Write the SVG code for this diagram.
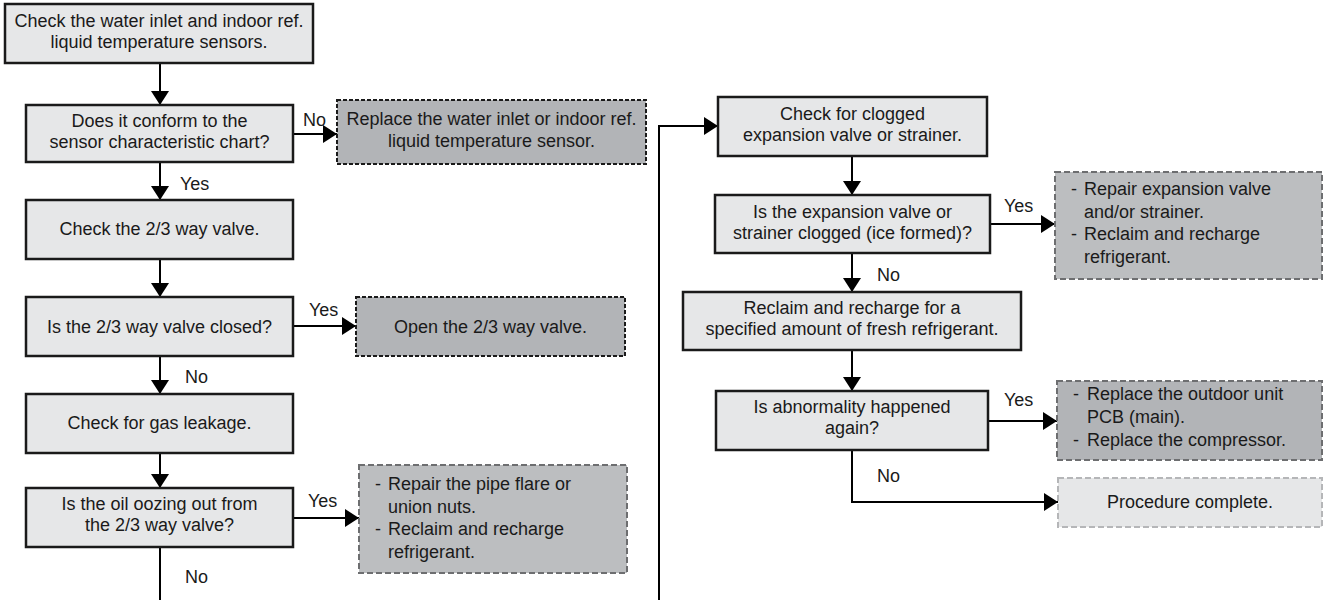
<svg xmlns="http://www.w3.org/2000/svg" width="1324" height="600" viewBox="0 0 1324 600">
<style>
text{font-family:"Liberation Sans",Arial,sans-serif;font-size:18px;fill:#1a1a1a}
.c{text-anchor:middle}
.step{fill:#e6e7e8;stroke:#1a1a1a;stroke-width:2.5}
.act{fill:#b2b4b7;stroke:#1a1a1a;stroke-width:2;stroke-dasharray:4 2}
.fix{fill:#bcbec0;stroke:#6d6e70;stroke-width:2;stroke-dasharray:6 3}
.fix2{fill:#b2b4b7;stroke:#6d6e70;stroke-width:2;stroke-dasharray:6 3}
.done{fill:#e6e7e8;stroke:#b5b6b8;stroke-width:2;stroke-dasharray:6 3}
.ln{fill:none;stroke:#000;stroke-width:2}
.ar{fill:none;stroke:#000;stroke-width:2;marker-end:url(#ah)}
</style>
<defs>
<marker id="ah" markerUnits="userSpaceOnUse" markerWidth="15" markerHeight="18" refX="14" refY="9" orient="auto">
<path d="M0,0 L14,9 L0,18 Z" fill="#000"/>
</marker>
</defs>

<g id="connectors">
<line class="ar" x1="160" y1="63" x2="160" y2="105"/>
<line class="ar" x1="293" y1="134" x2="337" y2="134"/>
<line class="ar" x1="160" y1="162" x2="160" y2="200"/>
<line class="ar" x1="160" y1="259" x2="160" y2="297"/>
<line class="ar" x1="293" y1="326" x2="356" y2="326"/>
<line class="ar" x1="160" y1="356" x2="160" y2="394"/>
<line class="ar" x1="160" y1="453" x2="160" y2="488"/>
<line class="ar" x1="293" y1="518" x2="359" y2="518"/>
<line class="ln" x1="160" y1="547" x2="160" y2="600"/>
<polyline class="ar" points="659,600 659,126 718,126"/>
<line class="ar" x1="852" y1="156" x2="852" y2="195"/>
<line class="ar" x1="990" y1="224" x2="1055" y2="224"/>
<line class="ar" x1="852" y1="253" x2="852" y2="292"/>
<line class="ar" x1="852" y1="350" x2="852" y2="391"/>
<line class="ar" x1="988" y1="421" x2="1057" y2="421"/>
<polyline class="ar" points="852,450 852,502 1058,502"/>
<text x="303" y="126">No</text>
<text x="180" y="190">Yes</text>
<text x="309" y="316">Yes</text>
<text x="185" y="383">No</text>
<text x="308" y="507">Yes</text>
<text x="185" y="583">No</text>
<text x="1004" y="212">Yes</text>
<text x="877" y="281">No</text>
<text x="1004" y="406">Yes</text>
<text x="877" y="482">No</text>
</g>

<g id="n1">
<rect class="step" x="5" y="4" width="308" height="59"/>
<text class="c" x="159" y="27">Check the water inlet and indoor ref.</text>
<text class="c" x="159" y="48">liquid temperature sensors.</text>
</g>
<g id="n2">
<rect class="step" x="26" y="105" width="267" height="57"/>
<text class="c" x="159.5" y="127">Does it conform to the</text>
<text class="c" x="159.5" y="148">sensor characteristic chart?</text>
</g>
<g id="n3">
<rect class="act" x="337" y="100" width="309" height="64"/>
<text class="c" x="491.5" y="125">Replace the water inlet or indoor ref.</text>
<text class="c" x="491.5" y="147">liquid temperature sensor.</text>
</g>
<g id="n4">
<rect class="step" x="26" y="200" width="267" height="59"/>
<text class="c" x="159.5" y="235">Check the 2/3 way valve.</text>
</g>
<g id="n5">
<rect class="step" x="26" y="297" width="267" height="59"/>
<text class="c" x="159.5" y="333">Is the 2/3 way valve closed?</text>
</g>
<g id="n6">
<rect class="act" x="356" y="297" width="269" height="59"/>
<text class="c" x="490.5" y="333">Open the 2/3 way valve.</text>
</g>
<g id="n7">
<rect class="step" x="26" y="394" width="267" height="59"/>
<text class="c" x="159.5" y="429">Check for gas leakage.</text>
</g>
<g id="n8">
<rect class="step" x="26" y="488" width="267" height="59"/>
<text class="c" x="159.5" y="510">Is the oil oozing out from</text>
<text class="c" x="159.5" y="531">the 2/3 way valve?</text>
</g>
<g id="n9">
<rect class="fix" x="359" y="465" width="268" height="108"/>
<text x="375" y="490">-</text><text x="388" y="490">Repair the pipe flare or</text>
<text x="388" y="512.5">union nuts.</text>
<text x="375" y="535">-</text><text x="388" y="535">Reclaim and recharge</text>
<text x="388" y="557.5">refrigerant.</text>
</g>
<g id="n10">
<rect class="step" x="718" y="97" width="269" height="59"/>
<text class="c" x="852.5" y="120">Check for clogged</text>
<text class="c" x="852.5" y="141">expansion valve or strainer.</text>
</g>
<g id="n11">
<rect class="step" x="715" y="195" width="275" height="58"/>
<text class="c" x="852.5" y="218">Is the expansion valve or</text>
<text class="c" x="852.5" y="239">strainer clogged (ice formed)?</text>
</g>
<g id="n12">
<rect class="fix" x="1055" y="172" width="267" height="107"/>
<text x="1071" y="195">-</text><text x="1084" y="195">Repair expansion valve</text>
<text x="1084" y="217.5">and/or strainer.</text>
<text x="1071" y="240">-</text><text x="1084" y="240">Reclaim and recharge</text>
<text x="1084" y="262.5">refrigerant.</text>
</g>
<g id="n13">
<rect class="step" x="683" y="292" width="338" height="58"/>
<text class="c" x="852" y="314">Reclaim and recharge for a</text>
<text class="c" x="852" y="335">specified amount of fresh refrigerant.</text>
</g>
<g id="n14">
<rect class="step" x="716" y="391" width="272" height="59"/>
<text class="c" x="852" y="413">Is abnormality happened</text>
<text class="c" x="852" y="434">again?</text>
</g>
<g id="n15">
<rect class="fix2" x="1057" y="381" width="265" height="79"/>
<text x="1073" y="400">-</text><text x="1087" y="400">Replace the outdoor unit</text>
<text x="1087" y="423">PCB (main).</text>
<text x="1073" y="446">-</text><text x="1087" y="446">Replace the compressor.</text>
</g>
<g id="n16">
<rect class="done" x="1058" y="478" width="264" height="49"/>
<text class="c" x="1190" y="508">Procedure complete.</text>
</g>
</svg>
